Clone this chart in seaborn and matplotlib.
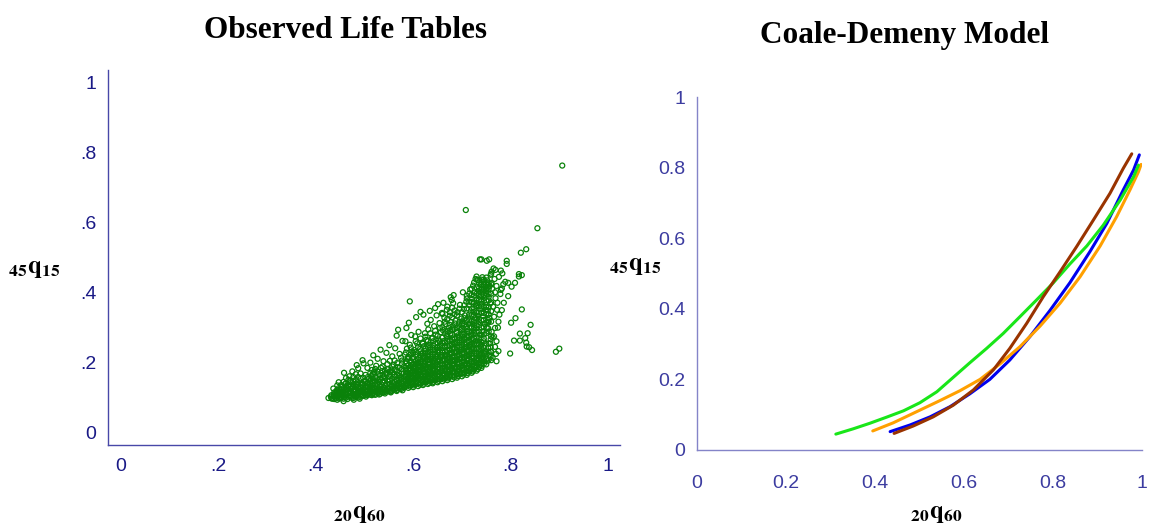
import matplotlib
matplotlib.use("Agg")
import matplotlib.pyplot as plt
import seaborn as sns
import pandas as pd

# ---- Observed life tables: scattered (20q60, 45q15) pairs ----
tail_points = [
    (0.426, 0.100), (0.431, 0.104), (0.434, 0.098), (0.437, 0.110), (0.440, 0.101), (0.442, 0.117),
    (0.444, 0.095), (0.446, 0.106), (0.448, 0.124), (0.449, 0.112), (0.451, 0.099), (0.453, 0.131),
    (0.455, 0.108), (0.456, 0.119), (0.458, 0.102), (0.460, 0.140), (0.461, 0.113), (0.463, 0.125),
    (0.465, 0.097), (0.466, 0.133), (0.468, 0.107), (0.470, 0.118), (0.471, 0.150), (0.473, 0.101),
    (0.474, 0.128), (0.476, 0.112), (0.477, 0.139), (0.479, 0.105), (0.480, 0.121), (0.482, 0.168),
    (0.483, 0.133), (0.485, 0.110), (0.486, 0.145), (0.488, 0.102), (0.489, 0.126), (0.491, 0.116),
    (0.492, 0.155), (0.494, 0.137), (0.495, 0.108), (0.497, 0.124), (0.498, 0.199), (0.499, 0.148),
    (0.447, 0.145), (0.462, 0.157), (0.475, 0.176), (0.487, 0.185), (0.458, 0.172), (0.436, 0.127),
    (0.444, 0.136), (0.469, 0.162), (0.478, 0.095), (0.490, 0.098), (0.457, 0.091), (0.484, 0.194),
    (0.496, 0.208),
]

middle_points = [
    (0.501, 0.113), (0.502, 0.131), (0.504, 0.121), (0.505, 0.142), (0.507, 0.109), (0.508, 0.154),
    (0.510, 0.126), (0.511, 0.137), (0.513, 0.117), (0.514, 0.163), (0.516, 0.146), (0.517, 0.112),
    (0.519, 0.129), (0.520, 0.175), (0.522, 0.139), (0.523, 0.120), (0.525, 0.157), (0.526, 0.133),
    (0.528, 0.114), (0.529, 0.168), (0.531, 0.146), (0.532, 0.125), (0.534, 0.186), (0.535, 0.138),
    (0.537, 0.118), (0.538, 0.159), (0.540, 0.130), (0.541, 0.149), (0.543, 0.121), (0.544, 0.172),
    (0.546, 0.140), (0.547, 0.197), (0.549, 0.127), (0.550, 0.161), (0.552, 0.150), (0.553, 0.119),
    (0.555, 0.181), (0.556, 0.134), (0.558, 0.145), (0.559, 0.125), (0.561, 0.166), (0.562, 0.207),
    (0.564, 0.139), (0.565, 0.152), (0.567, 0.128), (0.568, 0.188), (0.570, 0.143), (0.571, 0.171),
    (0.573, 0.133), (0.574, 0.159), (0.576, 0.126), (0.577, 0.198), (0.579, 0.148), (0.580, 0.136),
    (0.506, 0.186), (0.512, 0.201), (0.518, 0.222), (0.527, 0.212), (0.533, 0.238), (0.539, 0.205),
    (0.545, 0.229), (0.551, 0.251), (0.557, 0.219), (0.563, 0.242), (0.566, 0.278), (0.572, 0.226),
    (0.578, 0.263), (0.569, 0.295), (0.524, 0.192), (0.548, 0.183), (0.560, 0.195), (0.575, 0.215),
    (0.536, 0.177), (0.515, 0.180), (0.503, 0.104), (0.515, 0.108), (0.530, 0.110), (0.542, 0.113),
    (0.554, 0.116), (0.566, 0.120), (0.578, 0.122), (0.509, 0.116), (0.521, 0.112), (0.533, 0.118),
    (0.545, 0.124), (0.557, 0.127), (0.569, 0.135), (0.581, 0.130),
]

core_points = [
    (0.582, 0.130), (0.587, 0.138), (0.584, 0.147), (0.589, 0.155), (0.583, 0.163), (0.588, 0.172),
    (0.585, 0.181), (0.581, 0.190), (0.586, 0.199), (0.589, 0.211), (0.583, 0.224), (0.587, 0.241),
    (0.584, 0.262), (0.586, 0.300),
    (0.593, 0.133), (0.598, 0.141), (0.591, 0.150), (0.596, 0.158), (0.594, 0.167), (0.599, 0.176),
    (0.592, 0.186), (0.597, 0.195), (0.595, 0.206), (0.590, 0.218), (0.598, 0.233), (0.593, 0.252),
    (0.596, 0.280), (0.591, 0.315), (0.593, 0.376),
    (0.601, 0.136), (0.606, 0.144), (0.603, 0.153), (0.608, 0.162), (0.602, 0.171), (0.607, 0.180),
    (0.604, 0.190), (0.609, 0.200), (0.600, 0.211), (0.605, 0.223), (0.602, 0.237), (0.608, 0.256),
    (0.604, 0.276), (0.606, 0.331),
    (0.614, 0.138), (0.619, 0.147), (0.611, 0.156), (0.616, 0.165), (0.613, 0.174), (0.618, 0.184),
    (0.610, 0.194), (0.615, 0.204), (0.612, 0.215), (0.617, 0.227), (0.614, 0.240), (0.619, 0.258),
    (0.611, 0.289), (0.615, 0.346),
    (0.622, 0.141), (0.627, 0.150), (0.624, 0.159), (0.629, 0.168), (0.621, 0.178), (0.626, 0.188),
    (0.623, 0.198), (0.628, 0.209), (0.620, 0.221), (0.625, 0.234), (0.622, 0.248), (0.627, 0.266),
    (0.624, 0.285), (0.629, 0.312), (0.621, 0.338),
    (0.633, 0.143), (0.638, 0.152), (0.631, 0.161), (0.636, 0.171), (0.634, 0.181), (0.639, 0.191),
    (0.632, 0.202), (0.637, 0.213), (0.630, 0.225), (0.635, 0.238), (0.633, 0.252), (0.638, 0.270),
    (0.631, 0.296), (0.636, 0.323), (0.634, 0.349),
    (0.641, 0.146), (0.646, 0.155), (0.643, 0.164), (0.648, 0.174), (0.640, 0.184), (0.645, 0.195),
    (0.642, 0.206), (0.647, 0.218), (0.644, 0.231), (0.649, 0.245), (0.641, 0.262), (0.646, 0.281),
    (0.643, 0.305), (0.648, 0.336), (0.645, 0.357),
    (0.652, 0.149), (0.657, 0.158), (0.654, 0.168), (0.659, 0.178), (0.651, 0.189), (0.656, 0.200),
    (0.653, 0.211), (0.658, 0.223), (0.650, 0.236), (0.655, 0.250), (0.652, 0.267), (0.657, 0.288),
    (0.654, 0.314), (0.659, 0.343), (0.651, 0.368),
]

wing_points = [
    (0.663, 0.153), (0.668, 0.162), (0.661, 0.171), (0.666, 0.181), (0.664, 0.191), (0.669, 0.201),
    (0.662, 0.212), (0.667, 0.224), (0.660, 0.236), (0.665, 0.249), (0.663, 0.263), (0.668, 0.278),
    (0.661, 0.294), (0.666, 0.311), (0.664, 0.329), (0.669, 0.352), (0.662, 0.372),
    (0.671, 0.156), (0.676, 0.165), (0.673, 0.175), (0.678, 0.185), (0.670, 0.195), (0.675, 0.206),
    (0.672, 0.217), (0.677, 0.229), (0.674, 0.242), (0.679, 0.255), (0.671, 0.269), (0.676, 0.284),
    (0.673, 0.300), (0.678, 0.317), (0.675, 0.335), (0.670, 0.361), (0.677, 0.388),
    (0.684, 0.159), (0.689, 0.168), (0.682, 0.178), (0.687, 0.188), (0.680, 0.199), (0.685, 0.210),
    (0.683, 0.221), (0.688, 0.233), (0.681, 0.246), (0.686, 0.259), (0.684, 0.273), (0.689, 0.288),
    (0.682, 0.304), (0.687, 0.321), (0.685, 0.339), (0.680, 0.358), (0.683, 0.394),
    (0.692, 0.163), (0.697, 0.172), (0.694, 0.182), (0.699, 0.192), (0.691, 0.203), (0.696, 0.214),
    (0.693, 0.226), (0.698, 0.238), (0.690, 0.251), (0.695, 0.265), (0.692, 0.279), (0.697, 0.294),
    (0.694, 0.310), (0.699, 0.327), (0.691, 0.345), (0.696, 0.366),
    (0.703, 0.167), (0.708, 0.176), (0.701, 0.186), (0.706, 0.197), (0.704, 0.208), (0.709, 0.220),
    (0.702, 0.232), (0.707, 0.245), (0.700, 0.259), (0.705, 0.273), (0.703, 0.288), (0.708, 0.303),
    (0.701, 0.319), (0.706, 0.336), (0.704, 0.354), (0.709, 0.375), (0.702, 0.402),
    (0.711, 0.171), (0.716, 0.181), (0.713, 0.191), (0.718, 0.202), (0.710, 0.213), (0.715, 0.225),
    (0.712, 0.238), (0.717, 0.252), (0.714, 0.266), (0.719, 0.281), (0.711, 0.297), (0.716, 0.313),
    (0.713, 0.330), (0.718, 0.347), (0.715, 0.365), (0.710, 0.384), (0.717, 0.410),
    (0.722, 0.176), (0.727, 0.186), (0.724, 0.197), (0.729, 0.208), (0.721, 0.220), (0.726, 0.233),
    (0.723, 0.247), (0.728, 0.262), (0.720, 0.278), (0.725, 0.294), (0.722, 0.311), (0.727, 0.328),
    (0.724, 0.346), (0.729, 0.364), (0.721, 0.383), (0.726, 0.401), (0.723, 0.421), (0.728, 0.440),
    (0.733, 0.183), (0.738, 0.194), (0.731, 0.206), (0.736, 0.219), (0.734, 0.233), (0.739, 0.248),
    (0.732, 0.264), (0.737, 0.281), (0.730, 0.299), (0.735, 0.317), (0.733, 0.335), (0.738, 0.353),
    (0.731, 0.371), (0.736, 0.389), (0.734, 0.406), (0.739, 0.423), (0.732, 0.438),
    (0.741, 0.192), (0.746, 0.205), (0.743, 0.219), (0.748, 0.235), (0.740, 0.252), (0.745, 0.270),
    (0.742, 0.290), (0.747, 0.312), (0.744, 0.334), (0.749, 0.352), (0.741, 0.369), (0.746, 0.386),
    (0.743, 0.402), (0.748, 0.417), (0.745, 0.431), (0.742, 0.445),
    (0.752, 0.205), (0.757, 0.222), (0.754, 0.243), (0.759, 0.268), (0.751, 0.300), (0.756, 0.329),
    (0.753, 0.350), (0.758, 0.370), (0.755, 0.389), (0.750, 0.405), (0.757, 0.420), (0.752, 0.436),
    (0.759, 0.452),
    (0.763, 0.215), (0.768, 0.246), (0.761, 0.289), (0.766, 0.332), (0.764, 0.361), (0.769, 0.385),
    (0.762, 0.412), (0.767, 0.440), (0.765, 0.470),
]

outlier_points = [
    (0.906, 0.764), (0.708, 0.637), (0.855, 0.585), (0.832, 0.525), (0.821, 0.515), (0.740, 0.496),
    (0.756, 0.496), (0.751, 0.492), (0.792, 0.492), (0.792, 0.483), (0.769, 0.466), (0.780, 0.464),
    (0.783, 0.456), (0.817, 0.454), (0.823, 0.451), (0.817, 0.447), (0.732, 0.437), (0.789, 0.432),
    (0.795, 0.429), (0.809, 0.429), (0.802, 0.418), (0.782, 0.413), (0.780, 0.409), (0.761, 0.428),
    (0.753, 0.423), (0.744, 0.418), (0.741, 0.413), (0.795, 0.391), (0.823, 0.353), (0.810, 0.328),
    (0.801, 0.315), (0.841, 0.309), (0.835, 0.285), (0.819, 0.284), (0.807, 0.264), (0.819, 0.264),
    (0.830, 0.271), (0.832, 0.258), (0.833, 0.247), (0.838, 0.245), (0.844, 0.237), (0.799, 0.227),
    (0.893, 0.232), (0.900, 0.241), (0.782, 0.351), (0.754, 0.323), (0.754, 0.315), (0.754, 0.299),
    (0.763, 0.273), (0.758, 0.256), (0.759, 0.245), (0.759, 0.233), (0.759, 0.218), (0.747, 0.228),
    (0.775, 0.234), (0.770, 0.226), (0.730, 0.228), (0.734, 0.209), (0.741, 0.213), (0.726, 0.191),
    (0.737, 0.496), (0.761, 0.461), (0.720, 0.394), (0.679, 0.380), (0.682, 0.371),
    (0.771, 0.262), (0.774, 0.301), (0.777, 0.338), (0.773, 0.372), (0.779, 0.397), (0.786, 0.372),
    (0.771, 0.420), (0.776, 0.446), (0.785, 0.425), (0.768, 0.300), (0.771, 0.205), (0.766, 0.276),
    (0.772, 0.352), (0.768, 0.402), (0.775, 0.318),
]

# ---- Observed life tables: dense bands, one 20q60 value with its 45q15 values ----
band_low = [
    (0.432, [0.099, 0.108]),
    (0.438, [0.097, 0.106, 0.116]),
    (0.443, [0.104, 0.113, 0.122]),
    (0.447, [0.099, 0.109, 0.118, 0.128]),
    (0.452, [0.103, 0.113, 0.123, 0.137]),
    (0.457, [0.098, 0.108, 0.118, 0.128, 0.146]),
    (0.462, [0.101, 0.111, 0.121, 0.131, 0.142]),
    (0.467, [0.104, 0.114, 0.124, 0.137, 0.152]),
    (0.472, [0.106, 0.116, 0.126, 0.135, 0.145]),
    (0.477, [0.100, 0.110, 0.120, 0.131, 0.148, 0.160]),
    (0.482, [0.103, 0.113, 0.123, 0.141, 0.152]),
    (0.487, [0.107, 0.117, 0.128, 0.138, 0.160]),
    (0.492, [0.104, 0.111, 0.121, 0.131, 0.142, 0.170]),
    (0.497, [0.106, 0.115, 0.130, 0.140, 0.158]),
    (0.502, [0.108, 0.118, 0.125, 0.148, 0.166]),
    (0.507, [0.112, 0.121, 0.131, 0.143, 0.160]),
    (0.512, [0.110, 0.120, 0.130, 0.141, 0.152, 0.172]),
    (0.517, [0.114, 0.123, 0.135, 0.156, 0.168]),
    (0.522, [0.109, 0.118, 0.128, 0.147, 0.160, 0.183]),
    (0.527, [0.116, 0.123, 0.140, 0.151, 0.175]),
    (0.532, [0.112, 0.120, 0.131, 0.155, 0.166]),
    (0.537, [0.115, 0.126, 0.145, 0.166, 0.190]),
    (0.542, [0.117, 0.128, 0.136, 0.157, 0.178]),
    (0.547, [0.120, 0.131, 0.150, 0.170, 0.182]),
    (0.552, [0.118, 0.127, 0.140, 0.167, 0.175, 0.206]),
    (0.557, [0.121, 0.133, 0.155, 0.173, 0.190]),
    (0.562, [0.124, 0.131, 0.146, 0.160, 0.182]),
    (0.567, [0.123, 0.137, 0.149, 0.165, 0.179, 0.200]),
    (0.572, [0.127, 0.139, 0.152, 0.163, 0.186]),
    (0.577, [0.130, 0.142, 0.155, 0.170, 0.182, 0.207]),
]

band_mid = [
    (0.585, [0.134, 0.142, 0.151, 0.160, 0.168, 0.177, 0.186, 0.205, 0.230]),
    (0.590, [0.129, 0.137, 0.146, 0.154, 0.163, 0.171, 0.181, 0.194, 0.216]),
    (0.595, [0.137, 0.145, 0.154, 0.163, 0.172, 0.181, 0.190, 0.201, 0.224, 0.244]),
    (0.600, [0.131, 0.140, 0.149, 0.158, 0.166, 0.175, 0.185, 0.196, 0.216, 0.229]),
    (0.605, [0.139, 0.148, 0.157, 0.166, 0.175, 0.185, 0.195, 0.206, 0.231, 0.262]),
    (0.610, [0.134, 0.143, 0.152, 0.161, 0.170, 0.179, 0.189, 0.199, 0.210, 0.246]),
    (0.615, [0.142, 0.151, 0.160, 0.169, 0.179, 0.189, 0.199, 0.210, 0.221, 0.233, 0.270]),
    (0.620, [0.137, 0.146, 0.155, 0.164, 0.173, 0.183, 0.193, 0.204, 0.215, 0.228, 0.255]),
    (0.625, [0.145, 0.154, 0.163, 0.173, 0.183, 0.193, 0.203, 0.215, 0.227, 0.241, 0.275]),
    (0.630, [0.140, 0.149, 0.158, 0.167, 0.177, 0.187, 0.197, 0.208, 0.219, 0.231, 0.245, 0.262]),
    (0.635, [0.147, 0.156, 0.166, 0.176, 0.186, 0.197, 0.208, 0.219, 0.231, 0.245, 0.285]),
    (0.640, [0.142, 0.151, 0.160, 0.170, 0.180, 0.190, 0.201, 0.212, 0.224, 0.237, 0.251, 0.272]),
    (0.645, [0.150, 0.159, 0.169, 0.179, 0.190, 0.201, 0.212, 0.224, 0.238, 0.255, 0.292]),
    (0.650, [0.145, 0.154, 0.164, 0.174, 0.184, 0.195, 0.206, 0.218, 0.230, 0.244, 0.258, 0.277]),
    (0.655, [0.153, 0.163, 0.173, 0.184, 0.195, 0.206, 0.218, 0.231, 0.245, 0.262, 0.300]),
]

band_high = [
    (0.660, [0.148, 0.157, 0.166, 0.176, 0.186, 0.196, 0.207, 0.218, 0.230, 0.243, 0.257, 0.272, 0.302, 0.340]),
    (0.665, [0.157, 0.167, 0.177, 0.187, 0.198, 0.209, 0.220, 0.232, 0.245, 0.258, 0.285, 0.318]),
    (0.670, [0.151, 0.160, 0.170, 0.180, 0.190, 0.201, 0.212, 0.223, 0.235, 0.248, 0.262, 0.277, 0.292, 0.326]),
    (0.675, [0.160, 0.170, 0.180, 0.191, 0.202, 0.213, 0.225, 0.237, 0.250, 0.263, 0.291, 0.309, 0.345]),
    (0.680, [0.154, 0.163, 0.173, 0.183, 0.194, 0.205, 0.216, 0.228, 0.240, 0.253, 0.267, 0.281, 0.296, 0.330]),
    (0.685, [0.164, 0.174, 0.184, 0.195, 0.206, 0.217, 0.229, 0.241, 0.254, 0.268, 0.297, 0.313, 0.350]),
    (0.690, [0.158, 0.167, 0.177, 0.187, 0.198, 0.209, 0.220, 0.232, 0.245, 0.258, 0.272, 0.287, 0.302, 0.336]),
    (0.695, [0.168, 0.178, 0.188, 0.199, 0.210, 0.221, 0.233, 0.245, 0.258, 0.272, 0.302, 0.318, 0.355]),
    (0.700, [0.162, 0.171, 0.181, 0.192, 0.203, 0.214, 0.226, 0.238, 0.251, 0.265, 0.280, 0.296, 0.312, 0.345]),
    (0.705, [0.172, 0.182, 0.193, 0.204, 0.216, 0.228, 0.240, 0.253, 0.267, 0.282, 0.311, 0.328, 0.365]),
    (0.710, [0.166, 0.176, 0.186, 0.197, 0.208, 0.220, 0.232, 0.245, 0.259, 0.274, 0.290, 0.306, 0.323, 0.356, 0.392]),
    (0.715, [0.176, 0.186, 0.197, 0.209, 0.221, 0.234, 0.247, 0.261, 0.276, 0.290, 0.322, 0.339, 0.375, 0.398]),
    (0.720, [0.172, 0.181, 0.192, 0.203, 0.215, 0.227, 0.240, 0.254, 0.269, 0.286, 0.303, 0.320, 0.338, 0.356, 0.374, 0.412]),
    (0.725, [0.181, 0.192, 0.203, 0.215, 0.227, 0.240, 0.254, 0.270, 0.286, 0.302, 0.319, 0.337, 0.355, 0.373, 0.392, 0.430]),
    (0.730, [0.178, 0.189, 0.200, 0.212, 0.226, 0.240, 0.255, 0.272, 0.290, 0.308, 0.326, 0.344, 0.362, 0.380, 0.398, 0.416, 0.447]),
    (0.735, [0.188, 0.200, 0.213, 0.226, 0.240, 0.256, 0.272, 0.290, 0.308, 0.326, 0.344, 0.362, 0.380, 0.397, 0.414, 0.430]),
    (0.740, [0.186, 0.198, 0.211, 0.226, 0.242, 0.260, 0.280, 0.301, 0.322, 0.343, 0.361, 0.378, 0.394, 0.410, 0.424, 0.438]),
    (0.745, [0.197, 0.211, 0.227, 0.244, 0.262, 0.281, 0.302, 0.323, 0.343, 0.360, 0.377, 0.394, 0.410, 0.424, 0.438]),
    (0.750, [0.196, 0.212, 0.232, 0.255, 0.285, 0.316, 0.340, 0.360, 0.379, 0.397, 0.413, 0.428, 0.444]),
    (0.755, [0.210, 0.230, 0.256, 0.290, 0.318, 0.339, 0.359, 0.379, 0.397, 0.412, 0.428]),
    (0.760, [0.208, 0.232, 0.276, 0.318, 0.348, 0.373, 0.398, 0.425, 0.455]),
]

# ---- Coale-Demeny model curves ----
west_q60 = [0.434, 0.479, 0.524, 0.569, 0.613, 0.658, 0.703, 0.748, 0.793, 0.838, 0.883, 0.921, 0.958, 0.981, 0.994]
west_q15 = [0.052, 0.071, 0.094, 0.123, 0.159, 0.200, 0.255, 0.321, 0.395, 0.474, 0.562, 0.642, 0.737, 0.793, 0.836]
south_q60 = [0.395, 0.441, 0.501, 0.546, 0.591, 0.636, 0.681, 0.726, 0.771, 0.816, 0.861, 0.906, 0.943, 0.973, 0.992, 0.998]
south_q15 = [0.054, 0.077, 0.113, 0.140, 0.168, 0.200, 0.244, 0.293, 0.351, 0.416, 0.491, 0.578, 0.661, 0.737, 0.788, 0.809]
north_q60 = [0.312, 0.351, 0.389, 0.426, 0.464, 0.501, 0.539, 0.576, 0.613, 0.651, 0.688, 0.726, 0.763, 0.801, 0.838, 0.876, 0.913, 0.951, 0.981, 0.992]
north_q15 = [0.045, 0.060, 0.076, 0.093, 0.111, 0.134, 0.165, 0.206, 0.247, 0.288, 0.330, 0.378, 0.425, 0.474, 0.527, 0.578, 0.637, 0.708, 0.774, 0.807]
east_q60 = [0.443, 0.486, 0.531, 0.576, 0.621, 0.666, 0.703, 0.741, 0.778, 0.816, 0.853, 0.891, 0.928, 0.958, 0.977]
east_q15 = [0.047, 0.068, 0.094, 0.127, 0.170, 0.227, 0.288, 0.359, 0.434, 0.505, 0.576, 0.652, 0.727, 0.798, 0.839]

model_colors = {"West": "#0000ee", "South": "#ffa000", "North": "#19e619", "East": "#993300"}

# ---- styling ----
sns.set_style("white")
plt.rcParams["font.family"] = ["Liberation Sans", "DejaVu Sans"]
plt.rcParams["mathtext.fontset"] = "stix"
plt.rcParams["mathtext.default"] = "bf"

W, H = 1149, 523
fig = plt.figure(figsize=(W / 100, H / 100), dpi=100)


def fx(px):
    return px / W


def fy(py):
    return 1 - py / H


ax1 = fig.add_axes([fx(108), fy(445), (620 - 108) / W, (445 - 70) / H])
ax2 = fig.add_axes([fx(697), fy(450), (1142 - 697) / W, (450 - 97) / H])

# left panel: scatter of observed tables
pairs = tail_points + middle_points + core_points + wing_points + outlier_points
for group in (band_low, band_mid, band_high):
    for q60, q15_values in group:
        pairs += [(q60, v) for v in q15_values]
obs = pd.DataFrame(pairs, columns=["q60", "q15"])
sns.scatterplot(data=obs, x="q60", y="q15", ax=ax1, s=13, marker="o",
                facecolor="none", edgecolor="#0a820a", linewidth=0.9)

ax1.set_xlim(-0.0267, 1.0246)
ax1.set_ylim(-0.0343, 1.037)
ticks = [0, 0.2, 0.4, 0.6, 0.8, 1.0]
tick_text = ["0", ".2", ".4", ".6", ".8", "1"]
ax1.set_xticks(ticks)
ax1.set_xticklabels(tick_text)
ax1.set_yticks(ticks)
ax1.set_yticklabels(tick_text)
left_spine = "#4848a8"
for side in ["top", "right"]:
    ax1.spines[side].set_visible(False)
for side in ["left", "bottom"]:
    ax1.spines[side].set_color(left_spine)
    ax1.spines[side].set_linewidth(1.0)
ax1.tick_params(axis="both", which="major", direction="out", length=6.2, width=0.9,
                color=left_spine, labelcolor="#1a1a86", labelsize=14)
ax1.tick_params(axis="y", pad=2)
ax1.tick_params(axis="x", pad=3.5)
ax1.set_xlabel("")
ax1.set_ylabel("")

# right panel: model curves
frames = []
for name, xs, ys in [("West", west_q60, west_q15), ("South", south_q60, south_q15),
                     ("North", north_q60, north_q15), ("East", east_q60, east_q15)]:
    frames.append(pd.DataFrame({"q60": xs, "q15": ys, "model": name}))
curves = pd.concat(frames, ignore_index=True)
sns.lineplot(data=curves, x="q60", y="q15", hue="model", palette=model_colors,
             sort=False, estimator=None, units="model", ax=ax2, linewidth=2.2, legend=False)

ax2.set_xlim(0, 1)
ax2.set_ylim(0, 1)
ax2.set_xticks(ticks)
ax2.set_xticklabels(["0", "0.2", "0.4", "0.6", "0.8", "1"])
ax2.set_yticks(ticks)
ax2.set_yticklabels(["0", "0.2", "0.4", "0.6", "0.8", "1"])
right_spine = "#8484c8"
for side in ["top", "right"]:
    ax2.spines[side].set_visible(False)
for side in ["left", "bottom"]:
    ax2.spines[side].set_color(right_spine)
    ax2.spines[side].set_linewidth(1.0)
ax2.tick_params(axis="both", which="major", direction="out", length=5.2, width=0.9,
                color=right_spine, labelcolor="#3c3ca0", labelsize=14)
ax2.tick_params(axis="y", pad=3)
ax2.tick_params(axis="x", pad=13)
ax2.set_xlabel("")
ax2.set_ylabel("")

# titles and axis labels
title_font = dict(family="Liberation Serif", weight="bold", size=22.5, color="black")
fig.text(fx(345), fy(30), "Observed Life Tables", ha="center", va="center", **title_font)
fig.text(fx(905), fy(35), "Coale-Demeny Model", ha="center", va="center", **title_font)

ylab = r"${}_{45}q_{15}$"
xlab = r"${}_{20}q_{60}$"
fig.text(fx(34), fy(268), ylab, ha="center", va="center", size=18, color="black")
fig.text(fx(635), fy(265), ylab, ha="center", va="center", size=18, color="black")
fig.text(fx(359), fy(513), xlab, ha="center", va="center", size=18, color="black")
fig.text(fx(936), fy(513), xlab, ha="center", va="center", size=18, color="black")

fig.savefig("out.png", dpi=100, facecolor="white")
